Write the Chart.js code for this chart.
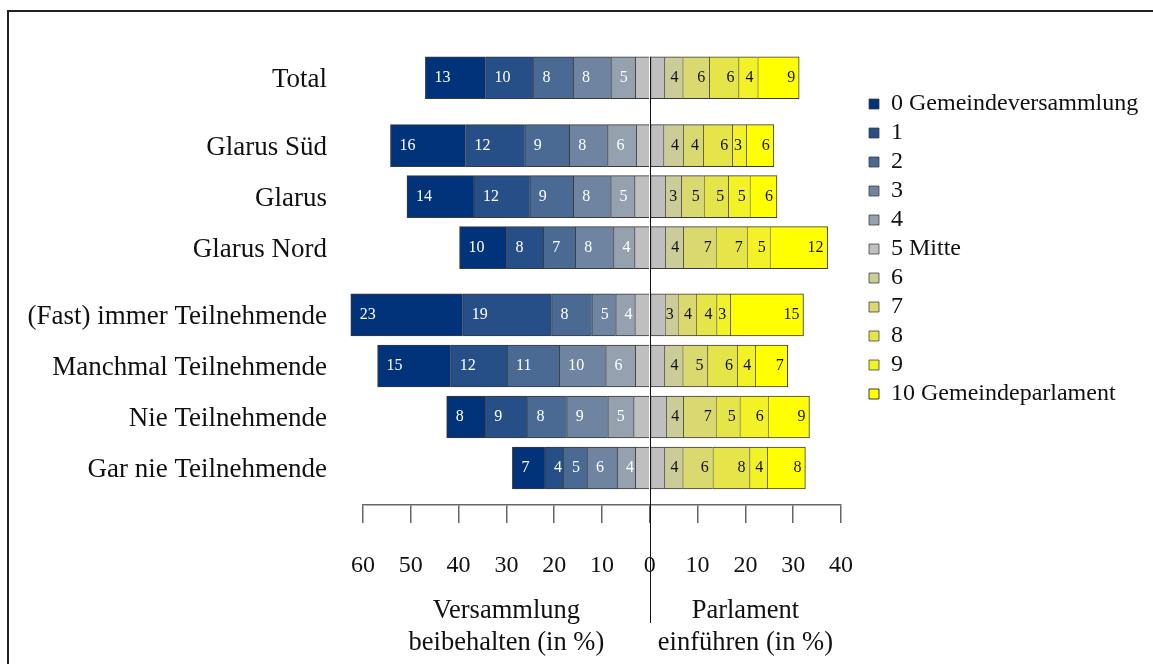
<!DOCTYPE html>
<html lang="de">
<head>
  <meta charset="UTF-8" />
  <title>Gemeindeversammlung oder Gemeindeparlament</title>
  <script src="https://cdn.jsdelivr.net/npm/chart.js"></script>
  <style>
    html, body {
      margin: 0;
      padding: 0;
      background: #fff;
      overflow: hidden;
    }
    #wrap {
      position: relative;
      width: 1153px;
      height: 664px;
    }
    #frame {
      position: absolute;
      left: 7px;
      top: 10px;
      right: -10px;
      bottom: -10px;
      border-left: 2px solid #222;
      border-top: 2px solid #222;
      pointer-events: none;
    }
  </style>
</head>
<body>
  <div id="wrap">
    <canvas id="chart"></canvas>
    <div id="frame"></div>
  </div>

  <script>
    const categories = [
      "Total", "Glarus Süd", "Glarus", "Glarus Nord",
      "(Fast) immer Teilnehmende", "Manchmal Teilnehmende",
      "Nie Teilnehmende", "Gar nie Teilnehmende"
    ];
    // row positions on the vertical axis (groups separated by a wider gap)
    const positions = [0, 1.33, 2.33, 3.33, 4.65, 5.65, 6.65, 7.65];

    const legendLabels = [
      "0 Gemeindeversammlung", "1", "2", "3", "4", "5 Mitte",
      "6", "7", "8", "9", "10 Gemeindeparlament"
    ];
    const colors = [
      "#00337a", "#264f88", "#4a6a94", "#6f84a0", "#95a1ae", "#bfbfbf",
      "#cccc99", "#d9d970", "#e5e54a", "#f2f226", "#ffff00"
    ];

    // shares in % per answer category, one value per row
    const s0 = [12.6, 15.7, 14.0, 9.8, 23.4, 15.3, 8.1, 6.8];
    const s1 = [10.0, 12.4, 11.7, 7.7, 18.6, 11.8, 8.8, 3.8];
    const s2 = [8.3, 9.3, 9.1, 6.7, 8.4, 10.9, 8.2, 5.0];
    const s3 = [7.9, 8.0, 7.8, 8.0, 5.0, 9.7, 8.6, 6.3];
    const s4 = [5.1, 6.0, 5.0, 4.4, 4.0, 6.2, 5.4, 3.8];
    const s5 = [6.1, 5.7, 6.4, 6.4, 6.3, 6.1, 6.8, 6.1];
    const s6 = [3.8, 4.1, 3.4, 3.8, 2.7, 3.8, 3.6, 3.8];
    const s7 = [5.6, 4.2, 4.7, 6.8, 3.8, 5.2, 6.8, 6.3];
    const s8 = [6.1, 6.1, 5.1, 6.5, 4.3, 6.2, 5.0, 7.7];
    const s9 = [4.0, 2.9, 4.5, 4.8, 2.9, 3.8, 5.9, 3.7];
    const s10 = [8.7, 5.8, 5.7, 12.1, 15.3, 6.8, 8.7, 8.0];

    const xMin = -60;
    const xMax = 40;
    const xStep = 10;

    const titleLeft = ["Versammlung", "beibehalten (in %)"];
    const titleRight = ["Parlament", "einführen (in %)"];

    const serif = "'Liberation Serif', 'Times New Roman', serif";
    const segments = [s0, s1, s2, s3, s4, s5, s6, s7, s8, s9, s10];

    const datasets = [];
    function addSet(rank, values, sign, side) {
      datasets.push({
        label: legendLabels[rank],
        rank: rank,
        side: side,
        data: values.map((v, i) => ({ x: sign * v, y: positions[i] })),
        backgroundColor: colors[rank],
        borderColor: "#3a3a3a",
        borderWidth: { top: 1, bottom: 1, left: 1, right: rank === 10 ? 1 : 0 },
        borderSkipped: false,
        barThickness: 42,
        clip: false
      });
    }

    // left side stacks outward from zero: half of "Mitte", then 4 .. 0
    addSet(5, s5.map(v => v / 2), -1, "mid");
    for (let k = 4; k >= 0; k--) addSet(k, segments[k], -1, "left");
    // right side: other half of "Mitte", then 6 .. 10
    addSet(5, s5.map(v => v / 2), 1, "mid2");
    for (let k = 6; k <= 10; k++) addSet(k, segments[k], 1, "right");

    // value labels inside the segments, at the end away from zero
    const valueLabels = {
      id: "valueLabels",
      afterDatasetsDraw(chart) {
        const ctx = chart.ctx;
        ctx.save();
        ctx.font = "16px " + serif;
        ctx.textBaseline = "middle";
        chart.data.datasets.forEach((ds, di) => {
          if (ds.side !== "left" && ds.side !== "right") return;
          chart.getDatasetMeta(di).data.forEach((bar, i) => {
            const p = bar.getProps(["x", "base", "y"], true);
            const text = String(Math.round(Math.abs(ds.data[i].x)));
            if (ds.side === "left") {
              ctx.fillStyle = "#fff";
              ctx.textAlign = "left";
              ctx.fillText(text, Math.min(p.x, p.base) + 9, p.y);
            } else {
              ctx.fillStyle = "#111";
              ctx.textAlign = "right";
              ctx.fillText(text, Math.max(p.x, p.base) - 4, p.y);
            }
          });
        });
        ctx.restore();
      }
    };

    // zero line and the two half titles under the axis
    const decorations = {
      id: "decorations",
      afterDraw(chart) {
        const ctx = chart.ctx;
        const xs = chart.scales.x;
        const ys = chart.scales.y;
        const area = chart.chartArea;
        const x0 = Math.round(xs.getPixelForValue(0)) + 0.5;
        ctx.save();
        ctx.strokeStyle = "#111";
        ctx.lineWidth = 1;
        ctx.beginPath();
        ctx.moveTo(x0, ys.getPixelForValue(positions[0]) - 21);
        ctx.lineTo(x0, area.bottom + 118);
        ctx.stroke();

        ctx.fillStyle = "#111";
        ctx.font = "26.5px " + serif;
        ctx.textAlign = "center";
        ctx.textBaseline = "alphabetic";
        const cl = xs.getPixelForValue(xMin / 2);
        const cr = xs.getPixelForValue(xMax / 2);
        titleLeft.forEach((t, i) => ctx.fillText(t, cl, area.bottom + 113 + i * 32));
        titleRight.forEach((t, i) => ctx.fillText(t, cr, area.bottom + 113 + i * 32));
        ctx.restore();
      }
    };

    // move the legend a bit away from the plot and down
    const legendPlace = {
      id: "legendPlace",
      afterLayout(chart) {
        const lg = chart.legend;
        lg.left = chart.chartArea.right + 23;
        lg.right = chart.width;
        lg.width = lg.right - lg.left;
        lg.top = 87;
      }
    };

    new Chart(document.getElementById("chart"), {
      type: "bar",
      data: { datasets: datasets },
      plugins: [valueLabels, decorations, legendPlace],
      options: {
        indexAxis: "y",
        responsive: true,
        maintainAspectRatio: false,
        animation: false,
        layout: { padding: { top: 52, left: 0, right: 112, bottom: 0 } },
        scales: {
          x: {
            type: "linear",
            stacked: true,
            min: xMin,
            max: xMax,
            afterFit(axis) { axis.height = 159; },
            ticks: {
              stepSize: xStep,
              padding: 28,
              color: "#111",
              font: { family: serif, size: 24 },
              callback: v => Math.abs(v)
            },
            grid: {
              drawOnChartArea: false,
              drawTicks: true,
              tickLength: 18,
              color: "#666",
              lineWidth: 1.5
            },
            border: { display: true, color: "#666", width: 1.5 }
          },
          y: {
            type: "linear",
            stacked: true,
            reverse: true,
            offset: false,
            min: -0.5,
            max: 8.375,
            afterFit(axis) { axis.width = 363; },
            afterBuildTicks(axis) {
              axis.ticks = positions.map(v => ({ value: v }));
            },
            ticks: {
              autoSkip: false,
              padding: 36,
              labelOffset: 2,
              color: "#111",
              font: { family: serif, size: 27 },
              callback: v => {
                const i = positions.findIndex(p => Math.abs(p - v) < 1e-6);
                return i >= 0 ? categories[i] : "";
              }
            },
            grid: { display: false, drawTicks: false, offset: false },
            border: { display: false }
          }
        },
        plugins: {
          tooltip: { enabled: false },
          legend: {
            position: "right",
            align: "start",
            maxWidth: 200,
            labels: {
              boxWidth: 10,
              boxHeight: 10,
              padding: 5,
              color: "#111",
              font: { family: serif, size: 24 },
              filter: (item, data) => data.datasets[item.datasetIndex].side !== "mid2",
              sort: (a, b, data) => data.datasets[a.datasetIndex].rank - data.datasets[b.datasetIndex].rank
            }
          }
        }
      }
    });
  </script>
</body>
</html>
